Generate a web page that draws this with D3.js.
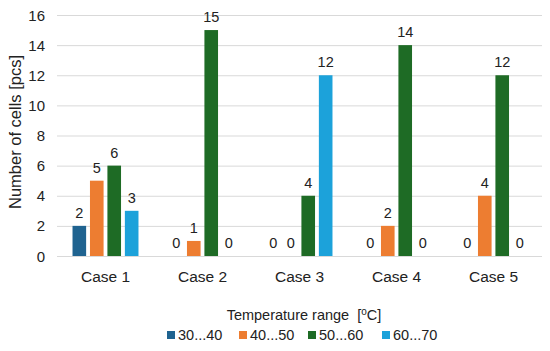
<!DOCTYPE html>
<html>
<head>
<meta charset="utf-8">
<script src="https://cdn.jsdelivr.net/npm/d3@7"></script>
<style>
  body { margin: 0; background: #fff; }
  text { font-family: "Liberation Sans", Arial, sans-serif; fill: #222; }
</style>
</head>
<body>
<script>
var cases = ["Case 1", "Case 2", "Case 3", "Case 4", "Case 5"];
var ranges = ["30...40", "40...50", "50...60", "60...70"];
var colors = ["#1f6390", "#ed7d31", "#1e6b25", "#1ca2da"];
var counts = [
  [2, 0, 0, 0, 0],   // 30...40
  [5, 1, 0, 2, 4],   // 40...50
  [6, 15, 4, 14, 12], // 50...60
  [3, 0, 12, 0, 0]   // 60...70
];
var yTicks = [0, 2, 4, 6, 8, 10, 12, 14, 16];

var width = 550, height = 351;
var margin = {top: 15, right: 8, bottom: 95, left: 57};

var svg = d3.select("body").append("svg")
  .attr("width", width)
  .attr("height", height);

var x = d3.scaleBand()
  .domain(cases)
  .range([margin.left, width - margin.right])
  .paddingInner(0.32)
  .paddingOuter(0.16);

var xs = d3.scaleBand()
  .domain(ranges)
  .range([0, x.bandwidth()])
  .paddingInner(0.22);

var y = d3.scaleLinear()
  .domain([0, 16])
  .range([height - margin.bottom, margin.top]);

// gridlines
svg.append("g").selectAll("line")
  .data(yTicks)
  .enter().append("line")
  .attr("x1", margin.left)
  .attr("x2", width - margin.right)
  .attr("y1", function(d) { return y(d) + 0.5; })
  .attr("y2", function(d) { return y(d) + 0.5; })
  .attr("stroke", "#d9d9d9")
  .attr("stroke-width", 1);

// y tick labels
svg.append("g").selectAll("text")
  .data(yTicks)
  .enter().append("text")
  .attr("x", 45)
  .attr("y", function(d) { return y(d) + 5.5; })
  .attr("text-anchor", "end")
  .style("font-size", "15px")
  .text(function(d) { return d; });

// x category labels
svg.append("g").selectAll("text")
  .data(cases)
  .enter().append("text")
  .attr("x", function(d) { return x(d) + x.bandwidth() / 2; })
  .attr("y", 282)
  .attr("text-anchor", "middle")
  .style("font-size", "15.5px")
  .text(function(d) { return d; });

// bars
var series = svg.append("g").selectAll("g")
  .data(ranges)
  .enter().append("g")
  .attr("fill", function(d, i) { return colors[i]; });

series.selectAll("rect")
  .data(function(d, i) { return counts[i].map(function(v, j) { return {r: d, c: cases[j], v: v}; }); })
  .enter().append("rect")
  .attr("x", function(d) { return x(d.c) + xs(d.r); })
  .attr("y", function(d) { return y(d.v); })
  .attr("width", xs.bandwidth())
  .attr("height", function(d) { return y(0) - y(d.v); });

series.selectAll("text")
  .data(function(d, i) { return counts[i].map(function(v, j) { return {r: d, c: cases[j], v: v}; }); })
  .enter().append("text")
  .attr("x", function(d) { return x(d.c) + xs(d.r) + xs.bandwidth() / 2; })
  .attr("y", function(d) { return y(d.v) - 8; })
  .attr("text-anchor", "middle")
  .style("font-size", "14.5px")
  .text(function(d) { return d.v; });

// y axis title
svg.append("text")
  .attr("transform", "translate(21," + 132 + ") rotate(-90)")
  .attr("text-anchor", "middle")
  .style("font-size", "16.5px")
  .text("Number of cells [pcs]");

// legend title
var lt = svg.append("text")
  .attr("x", 304)
  .attr("y", 320)
  .attr("text-anchor", "middle")
  .attr("xml:space", "preserve")
  .style("font-size", "14.5px");
lt.append("tspan").text("Temperature range  [");
lt.append("tspan").attr("baseline-shift", "super").style("font-size", "10px").text("o");
lt.append("tspan").text("C]");

// legend
var legendX = [167, 239, 308, 382];
var legend = svg.append("g").selectAll("g")
  .data(ranges)
  .enter().append("g")
  .attr("transform", function(d, i) { return "translate(" + legendX[i] + ",335)"; });

legend.append("rect")
  .attr("x", 0)
  .attr("y", -4)
  .attr("width", 8)
  .attr("height", 8)
  .attr("fill", function(d, i) { return colors[i]; });

legend.append("text")
  .attr("x", 11)
  .attr("y", 5)
  .style("font-size", "14.5px")
  .text(function(d) { return d; });
</script>
</body>
</html>
